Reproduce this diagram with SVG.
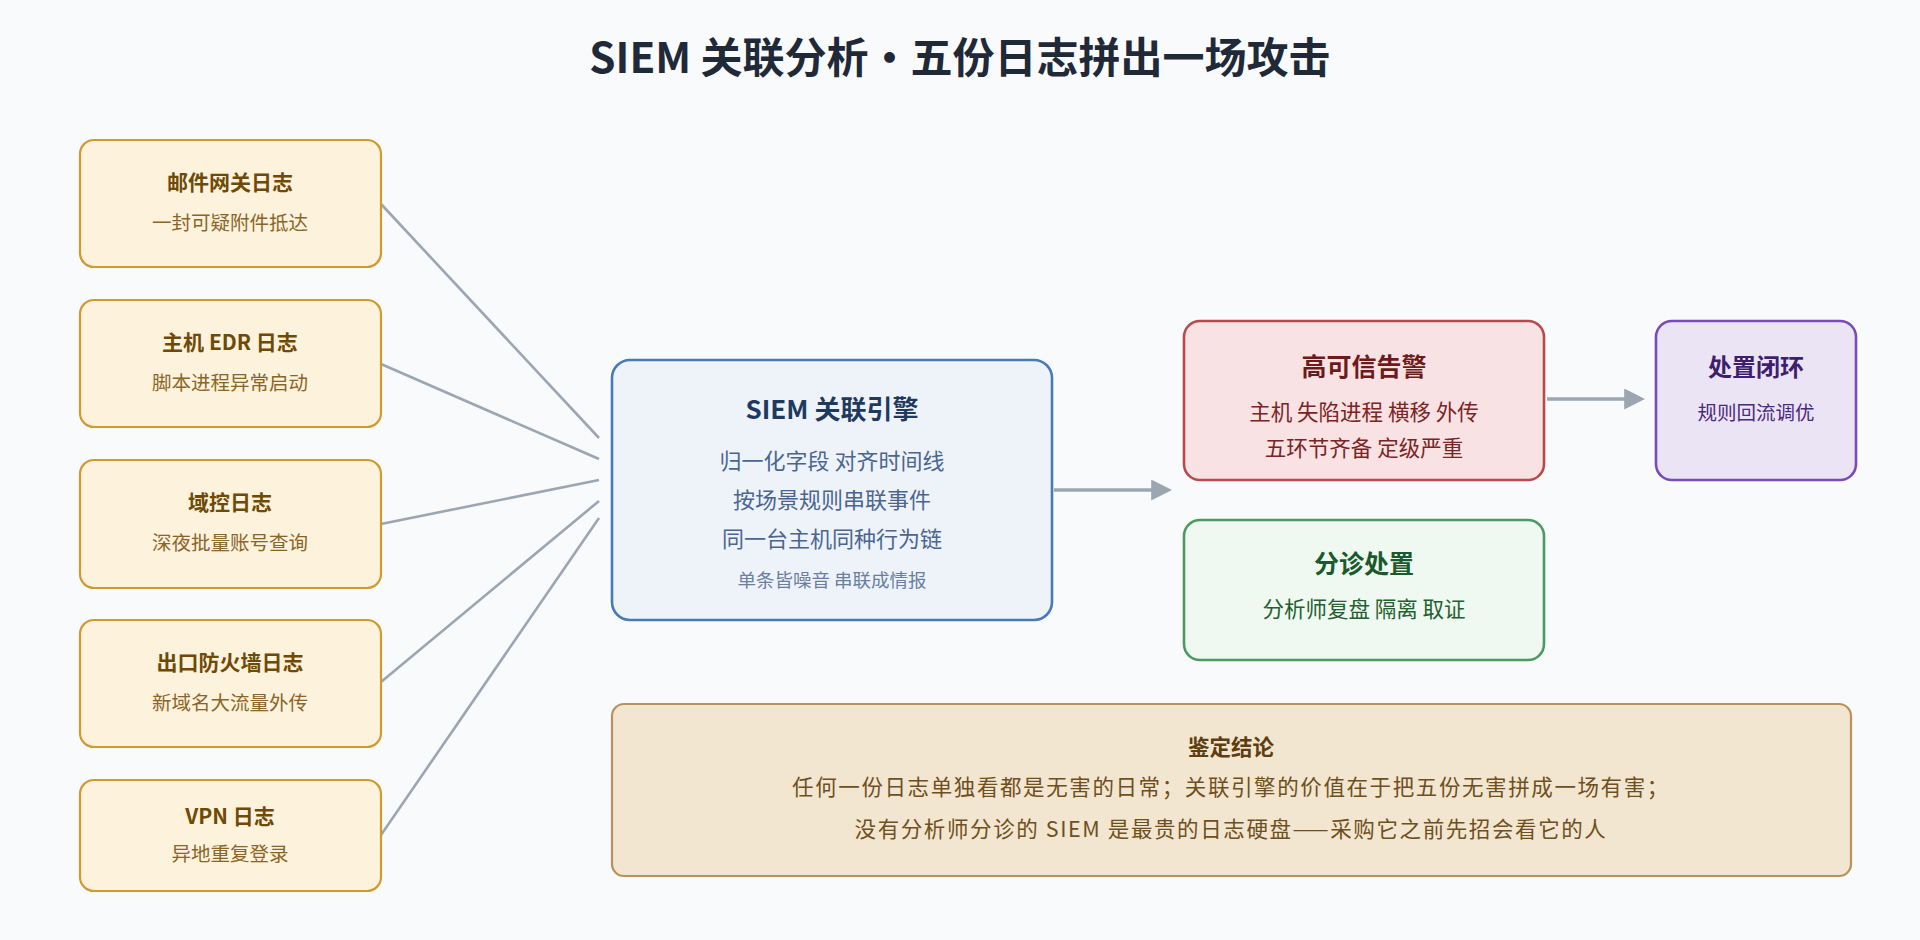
<svg xmlns="http://www.w3.org/2000/svg" width="1920" height="940" viewBox="0 0 1920 940">
<defs>
<style>
text{font-family:"Noto Sans CJK SC","Liberation Sans",sans-serif;text-anchor:middle}
.src rect{fill:#fdf2db;stroke:#d09a32;stroke-width:2.2}
.src .t{font-size:21px;font-weight:bold;fill:#6e4a06}
.src .s{font-size:19.5px;fill:#8a6528}
.ln{stroke:#9ca6b2;stroke-width:2.6;fill:none}
.ar{stroke:#9ca6b2;stroke-width:3.5;fill:none}
</style>
<marker id="ah" viewBox="0 0 10 10" refX="8" refY="5" markerWidth="6" markerHeight="6" orient="auto" markerUnits="strokeWidth"><path d="M0,0L10,5L0,10z" fill="#9ca6b2"/></marker>
</defs>
<rect width="1920" height="940" fill="#f8fafc"/>
<text x="960" y="73" font-size="42" font-weight="bold" fill="#1f2937">SIEM 关联分析・五份日志拼出一场攻击</text>
<g id="connectors">
<line class="ln" x1="381" y1="204" x2="599" y2="438"/>
<line class="ln" x1="381" y1="364" x2="599" y2="459"/>
<line class="ln" x1="381" y1="524" x2="599" y2="480"/>
<line class="ln" x1="381" y1="682" x2="599" y2="501"/>
<line class="ln" x1="381" y1="835" x2="599" y2="518"/>
<line class="ar" x1="1054" y1="490" x2="1168" y2="490" marker-end="url(#ah)"/>
<line class="ar" x1="1547" y1="399" x2="1641" y2="399" marker-end="url(#ah)"/>
</g>
<g id="n1" class="src"><rect x="80" y="140" width="301" height="127" rx="14"/><text class="t" x="230" y="190">邮件网关日志</text><text class="s" x="230" y="230">一封可疑附件抵达</text></g>
<g id="n2" class="src"><rect x="80" y="300" width="301" height="127" rx="14"/><text class="t" x="230" y="350">主机 EDR 日志</text><text class="s" x="230" y="390">脚本进程异常启动</text></g>
<g id="n3" class="src"><rect x="80" y="460" width="301" height="128" rx="14"/><text class="t" x="230" y="510">域控日志</text><text class="s" x="230" y="550">深夜批量账号查询</text></g>
<g id="n4" class="src"><rect x="80" y="620" width="301" height="127" rx="14"/><text class="t" x="230" y="670">出口防火墙日志</text><text class="s" x="230" y="710">新域名大流量外传</text></g>
<g id="n5" class="src"><rect x="80" y="780" width="301" height="111" rx="14"/><text class="t" x="230" y="824">VPN 日志</text><text class="s" x="230" y="861">异地重复登录</text></g>
<g id="siem"><rect x="612" y="360" width="440" height="260" rx="18" fill="#eef3fa" stroke="#4a7ab5" stroke-width="2.6"/>
<text x="832" y="419" font-size="26" font-weight="bold" fill="#1e3a5f">SIEM 关联引擎</text>
<text x="832" y="469" font-size="22" fill="#4a6690">归一化字段 对齐时间线</text>
<text x="832" y="508" font-size="22" fill="#4a6690">按场景规则串联事件</text>
<text x="832" y="547" font-size="22" fill="#4a6690">同一台主机同种行为链</text>
<text x="832" y="587" font-size="18.5" fill="#6a7f9e">单条皆噪音 串联成情报</text></g>
<g id="alert"><rect x="1184" y="321" width="360" height="159" rx="16" fill="#f8e2e4" stroke="#b84a4e" stroke-width="2.6"/>
<text x="1364" y="376" font-size="25" font-weight="bold" fill="#6e1a1a">高可信告警</text>
<text x="1364" y="420" font-size="21.5" fill="#7a2424">主机 失陷进程 横移 外传</text>
<text x="1364" y="456" font-size="21.5" fill="#7a2424">五环节齐备 定级严重</text></g>
<g id="triage"><rect x="1184" y="520" width="360" height="140" rx="16" fill="#eff8f1" stroke="#4a9a62" stroke-width="2.6"/>
<text x="1364" y="573" font-size="25" font-weight="bold" fill="#1a5a2c">分诊处置</text>
<text x="1364" y="617" font-size="21.5" fill="#24602f">分析师复盘 隔离 取证</text></g>
<g id="close"><rect x="1656" y="321" width="200" height="159" rx="16" fill="#ebe4f5" stroke="#7a4ab8" stroke-width="2.6"/>
<text x="1756" y="376" font-size="24" font-weight="bold" fill="#3e1f6e">处置闭环</text>
<text x="1756" y="420" font-size="19.5" fill="#4a2a7a">规则回流调优</text></g>
<g id="conclusion"><rect x="612" y="704" width="1239" height="172" rx="12" fill="#f3e6d0" stroke="#b8925a" stroke-width="2.2"/>
<text x="1231" y="755" font-size="21.5" font-weight="bold" fill="#5e3e10">鉴定结论</text>
<text x="1231" y="795" font-size="21.5" fill="#6e5020" letter-spacing="1.6">任何一份日志单独看都是无害的日常；关联引擎的价值在于把五份无害拼成一场有害；</text>
<text x="1231" y="837" font-size="21.5" fill="#6e5020" letter-spacing="1.6">没有分析师分诊的 SIEM 是最贵的日志硬盘——采购它之前先招会看它的人</text></g>
</svg>
